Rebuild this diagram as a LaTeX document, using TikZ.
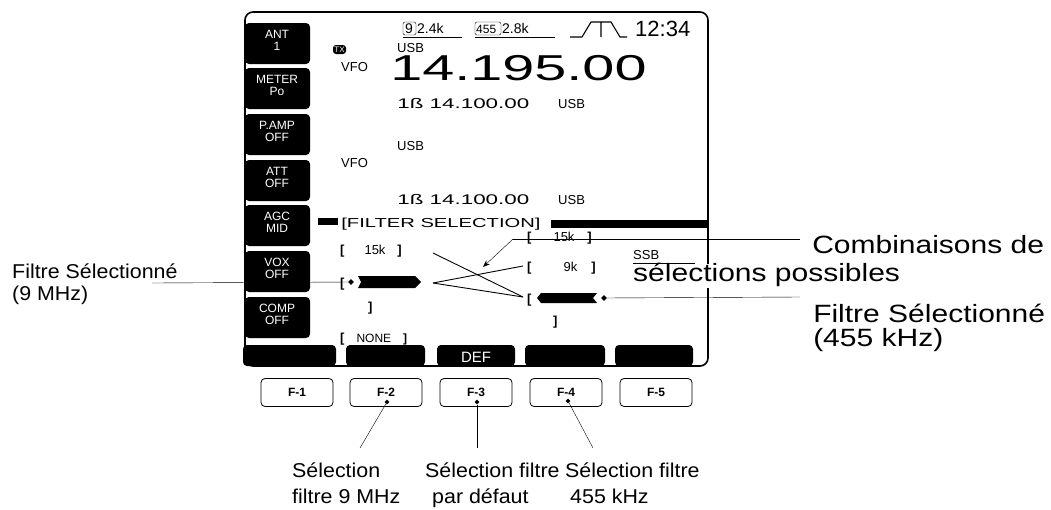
\documentclass[tikz,border=0pt]{standalone}
\usepackage{fontspec}
\setmainfont{Liberation Sans}
\usetikzlibrary{shapes.geometric,arrows.meta}
\begin{document}
\begin{tikzpicture}[x=1pt,y=-1pt,
  key/.style={fill=black,rounded corners=4pt},
  keytxt/.style={text=white,font=\fontsize{12}{12}\selectfont,align=center,inner sep=0},
  scr/.style={font=\fontsize{13}{13}\selectfont,anchor=base west,inner sep=0},
  wide/.style={font=\fontsize{14}{14}\selectfont,anchor=base west,inner sep=0,xscale=1.6},
  lbl/.style={font=\fontsize{20}{20}\selectfont,anchor=base west,inner sep=0,xscale=1.07},
  big/.style={font=\fontsize{25}{25}\selectfont,anchor=base west,inner sep=0,xscale=1.2},
  fk/.style={draw,thick,rounded corners=4pt,minimum width=72pt,minimum height=28pt,font=\bfseries\fontsize{12}{12}\selectfont},
  dia/.style={fill=black,diamond,inner sep=0,minimum size=6pt},
  ld/.style={line width=0.9pt}]
\useasboundingbox (0,0) rectangle (1051,509);
% frame
\draw[line width=1.6pt,rounded corners=8pt] (245,12) rectangle (708,366);
% left soft keys
\foreach \y/\a/\b [count=\i] in {23/ANT/1,68/METER/Po,114/P.AMP/OFF,160/ATT/OFF,205/AGC/MID,251/VOX/OFF,297/COMP/OFF}{
  \fill[key] (245,\y) rectangle (310,\y+41);
  \node[keytxt] (sk\i) at (277,\y+17) {\a\\\b};
}
% bottom soft keys
\foreach \a/\b in {243/336,346/425,437/515,525/605,615/693}{
  \fill[rounded corners=4pt] (\a,366) |- (\b,345) -- (\b,366) -- cycle;
}
\node[text=white,font=\fontsize{15}{15}\selectfont,inner sep=0] (def) at (476,357) {DEF};
% status line
\draw[rounded corners=2pt] (403,22) rectangle (416,35);
\node[scr,font=\fontsize{14}{14}\selectfont] (nine) at (405,33) {9};
\node[scr,font=\fontsize{14}{14}\selectfont] (bw1) at (417,33) {2.4k};
\draw (403,37) -- (462,37);
\draw[rounded corners=2pt] (475,22) rectangle (501,35);
\node[scr,font=\fontsize{12}{12}\selectfont] (f455) at (476,33) {455};
\node[scr,font=\fontsize{14}{14}\selectfont] (bw2) at (502,33) {2.8k};
\draw (475,37) -- (555,37);
\draw[line width=1.1pt] (570,37) -- (582,37) -- (591,22) -- (611,22) -- (620,37) -- (627,37) (601,22) -- (601,37);
\node[scr,font=\fontsize{22}{22}\selectfont] (clk) at (635,36) {12:34};
% main VFO
\fill[rounded corners=3pt] (333,45) rectangle (346,54);
\node[text=white,font=\fontsize{8}{8}\selectfont,inner sep=0] (tx) at (339.5,49.5) {TX};
\node[scr] (usb1) at (397,52) {USB};
\node[scr] (vfo1) at (341,71) {VFO};
\node[anchor=base west,inner sep=0,font=\fontsize{36}{30}\selectfont,xscale=1.6,text height=20pt,text depth=0pt] (freq) at (390,80) {14.195.00};
\node[wide] (sub1) at (397,108) {1ß 14.100.00};
\node[scr] (usb2) at (558,108) {USB};
\node[scr] (usb3) at (397,150) {USB};
\node[scr] (vfo2) at (341,167) {VFO};
\node[wide] (sub2) at (397,204) {1ß 14.100.00};
\node[scr] (usb4) at (558,204) {USB};
% filter selection
\fill (318,218) rectangle (338,225);
\node[wide,font=\fontsize{13}{13}\selectfont,xscale=0.97] (fs) at (341,227) {[FILTER SELECTION]};
\fill (551,220) rectangle (708,228);
\tikzset{br/.style={font=\bfseries\fontsize{13}{13}\selectfont,anchor=base west,inner sep=0}}
\node[br] (l15) at (340,254) {[\hspace{20pt}\mdseries 15k\hspace{12pt}\bfseries ]};
\node[br] (lsel) at (340,287) {[};
\fill (358,276) -- (415,276) -- (421,282) -- (415,288) -- (358,288) -- (361,282) -- cycle;
\node[dia] (ldia) at (351,282) {};
\node[br] (lclose) at (368,311) {]};
\node[br] (lnone) at (340,342) {[\hspace{12pt}\mdseries\fontsize{12}{12}\selectfont NONE\hspace{12pt}\bfseries ]};
\node[br] (r15) at (527,241) {[\hspace{22pt}\mdseries 15k\hspace{13pt}\bfseries ]};
\node[br] (r9) at (527,271) {[\hspace{32pt}\mdseries 9k\hspace{14pt}\bfseries ]};
\node[br] (rsel) at (527,303) {[};
\fill (541,293) -- (597,293) -- (593,298) -- (597,303) -- (541,303) -- (537,298) -- cycle;
\node[dia] (rdia) at (604,298) {};
\node[br] (rclose) at (553,325) {]};
\node[scr] (ssb) at (633,259) {SSB};
\draw (633,263) -- (695,263);
% combination lines
\coordinate (la) at (433,253); \coordinate (lb) at (433,283);
\coordinate (r9p) at (523,266); \coordinate (rsp) at (523,297);
\draw[ld] (la) -- (rsp);
\draw[ld] (lb) -- (r9p);
\draw[ld] (lb) -- (rsp);
% annotation labels
\fill[white] (628,264) rectangle (905,288);
\node[big] (comb1) at (812,253) {Combinaisons de};
\node[big] (comb2) at (633,281) {sélections possibles};
\coordinate (cr) at (800,239); \coordinate (cm) at (513,239); \coordinate (ct) at (483,267);
\draw (cr) -- (cm);
\draw[-{Stealth[length=7pt]}] (cm) -- (ct);
\node[big] (f455a) at (813,322) {Filtre Sélectionné};
\node[big] (f455b) at (813,346) {(455 kHz)};
\coordinate (r455) at (800,297);
\draw (rdia) -- (r455);
\node[lbl,xscale=1.0] (f9a) at (12,278) {Filtre Sélectionné};
\node[lbl,xscale=1.0] (f9b) at (12,300) {(9 MHz)};
\coordinate (l9) at (152,283);
\draw (l9) -- (ldia);
% F keys
\foreach \c/\t [count=\i] in {297/F-1,386/F-2,476/F-3,566/F-4,656/F-5}{
  \node[fk] (F\i) at (\c,392.5) {\t};
}
\node[dia,minimum size=5pt] (d2) at (387,402) {};
\node[dia,minimum size=5pt] (d3) at (477,402) {};
\node[dia,minimum size=5pt] (d4) at (568,401) {};
\coordinate (e2) at (360,448); \coordinate (e3) at (477,448); \coordinate (e4) at (593,448);
\draw (d2) -- (e2); \draw (d3) -- (e3); \draw (d4) -- (e4);
\node[lbl] (s2a) at (292,477) {Sélection};
\node[lbl] (s2b) at (292,503) {filtre 9 MHz};
\node[lbl] (s3a) at (425,477) {Sélection filtre};
\node[lbl] (s3b) at (432,503) {par défaut};
\node[lbl] (s4a) at (565,477) {Sélection filtre};
\node[lbl] (s4b) at (570,503) {455 kHz};
\end{tikzpicture}
\end{document}
